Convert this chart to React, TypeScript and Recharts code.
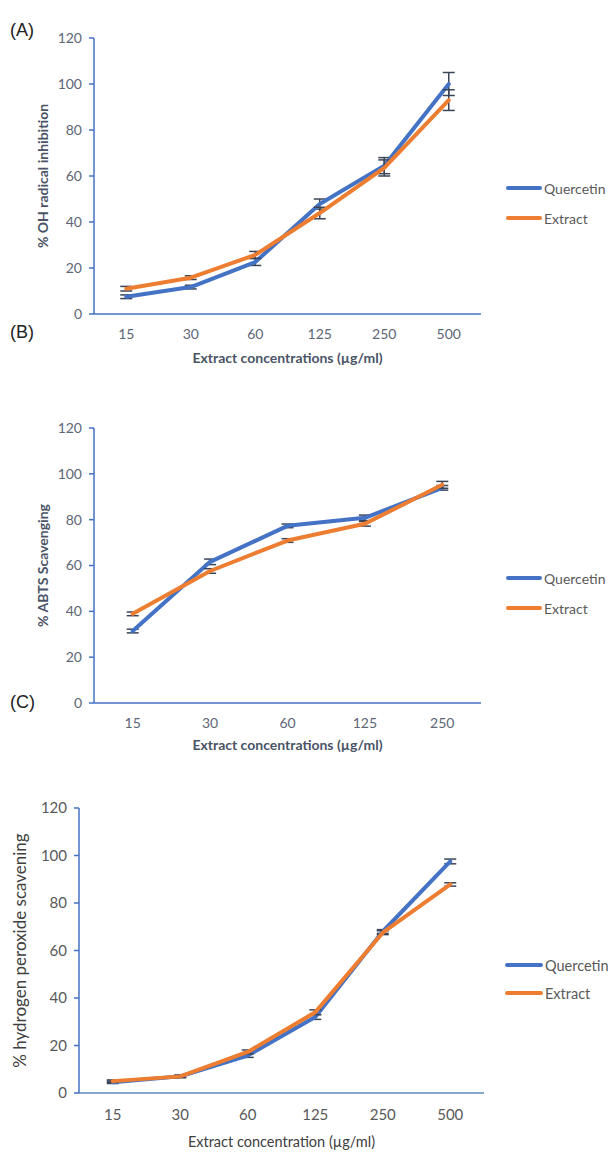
import React from 'react';
import { LineChart, Line, XAxis, YAxis, ErrorBar, Legend, Label } from 'recharts';

// Panel A: OH radical inhibition
const categoriesA = ['15', '30', '60', '125', '250', '500'];
const quercetinA = [7.5, 11.7, 22.6, 47.8, 64.5, 100];
const quercetinErrA = [0.8, 0.8, 1.5, 2.2, 3.5, 5.0];
const extractA = [11, 15.8, 25.7, 43.9, 63.5, 93];
const extractErrA = [1, 0.8, 1.5, 2.5, 3.5, 4.5];

// Panel B: ABTS scavenging
const categoriesB = ['15', '30', '60', '125', '250'];
const quercetinB = [31.4, 61.6, 77.3, 80.8, 93.9];
const quercetinErrB = [0.8, 1.2, 0.8, 1.2, 1.0];
const extractB = [38.9, 57.6, 70.9, 78.2, 95.2];
const extractErrB = [0.8, 1.0, 0.8, 1.0, 1.5];

// Panel C: hydrogen peroxide scavenging
const categoriesC = ['15', '30', '60', '125', '250', '500'];
const quercetinC = [4.5, 7, 15.8, 32, 68, 97.5];
const quercetinErrC = [0.5, 0.5, 0.8, 1, 0.8, 1];
const extractC = [5, 7, 17.3, 34, 67.5, 87.8];
const extractErrC = [0.5, 0.5, 0.8, 1, 0.8, 0.7];

const seriesNames = ['Quercetin', 'Extract'];
const yTicks = [0, 20, 40, 60, 80, 100, 120];

const build = (cats: string[], q: number[], qe: number[], e: number[], ee: number[]) =>
  cats.map((c, i) => ({ cat: c, q: q[i], qErr: qe[i], e: e[i], eErr: ee[i] }));

const dataA = build(categoriesA, quercetinA, quercetinErrA, extractA, extractErrA);
const dataB = build(categoriesB, quercetinB, quercetinErrB, extractB, extractErrB);
const dataC = build(categoriesC, quercetinC, quercetinErrC, extractC, extractErrC);

const BLUE = '#4472C4';
const ORANGE = '#ED7D31';
const ERR = '#3a4456';

type PanelProps = {
  data: any[];
  top: number;
  height: number;
  yAxisWidth: number;
  rightMargin: number;
  xAxisHeight: number;
  yLabel: string;
  xLabel: string;
  yLabelX: number;
  xLabelDy: number;
  tickFill: string;
  tickFont: number;
  xLabelFont: number;
  yLabelFont: number;
  labelWeight: number | string;
  labelFill: string;
  fontFamily: string;
  legendLeft: number;
  legendTop: number;
  legendRow: number;
  legendLineW: number;
  legendFont: number;
  xAxisColor: string;
  xTickMargin: number;
};

const Panel = (p: PanelProps) => {
  const plotW = 608 - p.yAxisWidth - p.rightMargin;
  const pad = plotW / p.data.length / 2;
  const legendContent = (props: any) => {
    const items = [...(props.payload || [])].sort(
      (a: any, b: any) => seriesNames.indexOf(a.value) - seriesNames.indexOf(b.value)
    );
    return (
      <div style={{ fontFamily: p.fontFamily }}>
        {items.map((entry: any) => (
          <div key={entry.value} style={{ display: 'flex', alignItems: 'center', height: p.legendRow }}>
            <span style={{ display: 'inline-block', width: p.legendLineW, height: 4, background: entry.color, borderRadius: 2 }} />
            <span style={{ marginLeft: 2, fontSize: p.legendFont, color: '#595959', whiteSpace: 'nowrap' }}>{entry.value}</span>
          </div>
        ))}
      </div>
    );
  };
  return (
    <div style={{ position: 'absolute', left: 0, top: p.top }}>
      <LineChart width={608} height={p.height} data={p.data} margin={{ top: 38, right: p.rightMargin, left: 0, bottom: 0 }}>
        <XAxis
          dataKey="cat"
          interval={0}
          height={p.xAxisHeight}
          padding={{ left: pad, right: pad }}
          axisLine={{ stroke: p.xAxisColor, strokeWidth: 1.5 }}
          tickLine={false}
          tickSize={0}
          tickMargin={p.xTickMargin}
          tick={{ fill: p.tickFill, fontSize: p.tickFont, fontFamily: p.fontFamily }}
          label={
            <Label
              content={(lp: any) => {
                const vb = lp.viewBox;
                return (
                  <text x={vb.x + vb.width / 2} y={vb.y + p.xLabelDy} textAnchor="middle" dominantBaseline="middle"
                    fontSize={p.xLabelFont} fontWeight={p.labelWeight} fill={p.labelFill} fontFamily={p.fontFamily}>
                    {p.xLabel}
                  </text>
                );
              }}
            />
          }
        />
        <YAxis
          width={p.yAxisWidth}
          domain={[0, 120]}
          ticks={yTicks}
          interval={0}
          axisLine={{ stroke: BLUE, strokeWidth: 1.5 }}
          tickLine={{ stroke: BLUE, strokeWidth: 1.5 }}
          tickSize={5}
          tickMargin={7}
          tick={{ fill: p.tickFill, fontSize: p.tickFont, fontFamily: p.fontFamily }}
          label={
            <Label
              content={(lp: any) => {
                const vb = lp.viewBox;
                const cx = vb.x + p.yLabelX;
                const cy = vb.y + vb.height / 2;
                return (
                  <text x={cx} y={cy} transform={`rotate(-90 ${cx} ${cy})`} textAnchor="middle" dominantBaseline="middle"
                    fontSize={p.yLabelFont} fontWeight={p.labelWeight} fill={p.labelFill} fontFamily={p.fontFamily}>
                    {p.yLabel}
                  </text>
                );
              }}
            />
          }
        />
        <Legend
          layout="vertical"
          align="center"
          verticalAlign="middle"
          content={legendContent}
          wrapperStyle={{ left: p.legendLeft, top: p.legendTop, width: 140 }}
        />
        <Line type="linear" dataKey="q" name="Quercetin" stroke={BLUE} strokeWidth={4} dot={false} activeDot={false}
          strokeLinejoin="round" strokeLinecap="round" isAnimationActive={false}>
          <ErrorBar dataKey="qErr" width={6} strokeWidth={1.5} stroke={ERR} direction="y" isAnimationActive={false} />
        </Line>
        <Line type="linear" dataKey="e" name="Extract" stroke={ORANGE} strokeWidth={4} dot={false} activeDot={false}
          strokeLinejoin="round" strokeLinecap="round" isAnimationActive={false}>
          <ErrorBar dataKey="eErr" width={6} strokeWidth={1.5} stroke={ERR} direction="y" isAnimationActive={false} />
        </Line>
      </LineChart>
    </div>
  );
};

const panelTag: React.CSSProperties = {
  position: 'absolute',
  left: 10,
  fontFamily: '"Liberation Sans", Arial, sans-serif',
  fontSize: 18,
  color: '#222',
  lineHeight: '20px',
};

export default function App() {
  const fontAB = 'Lato, "Open Sans", sans-serif';
  return (
    <div style={{ position: 'absolute', left: 0, top: 0, width: 608, height: 1152, background: '#fff', overflow: 'hidden' }}>
      <Panel
        data={dataA} top={0} height={375} yAxisWidth={94} rightMargin={127} xAxisHeight={61}
        yLabel="% OH radical inhibition" xLabel="Extract concentrations (µg/ml)" yLabelX={44} xLabelDy={45}
        tickFill="#5d6676" tickFont={14} xLabelFont={14} yLabelFont={14} labelWeight={700} labelFill="#4a5466" fontFamily={fontAB}
        legendLeft={506} legendTop={173} legendRow={30} legendLineW={36} legendFont={14}
        xAxisColor={BLUE} xTickMargin={15}
      />
      <Panel
        data={dataB} top={390} height={375} yAxisWidth={94} rightMargin={127} xAxisHeight={62}
        yLabel="% ABTS Scavenging" xLabel="Extract concentrations (µg/ml)" yLabelX={44} xLabelDy={43}
        tickFill="#5d6676" tickFont={14} xLabelFont={14} yLabelFont={14} labelWeight={700} labelFill="#4a5466" fontFamily={fontAB}
        legendLeft={506} legendTop={173} legendRow={30} legendLineW={36} legendFont={14}
        xAxisColor={BLUE} xTickMargin={15}
      />
      <Panel
        data={dataC} top={770} height={382} yAxisWidth={79} rightMargin={124} xAxisHeight={59}
        yLabel="% hydrogen peroxide scavening" xLabel="Extract concentration (µg/ml)" yLabelX={22} xLabelDy={50}
        tickFill="#595959" tickFont={15} xLabelFont={14.5} yLabelFont={17} labelWeight={400} labelFill="#404040" fontFamily={fontAB}
        legendLeft={505} legendTop={181} legendRow={28} legendLineW={38} legendFont={14.5}
        xAxisColor="#5b8ab8" xTickMargin={16}
      />
      <div style={{ ...panelTag, top: 20 }}>(A)</div>
      <div style={{ ...panelTag, top: 322 }}>(B)</div>
      <div style={{ ...panelTag, top: 692 }}>(C)</div>
    </div>
  );
}
